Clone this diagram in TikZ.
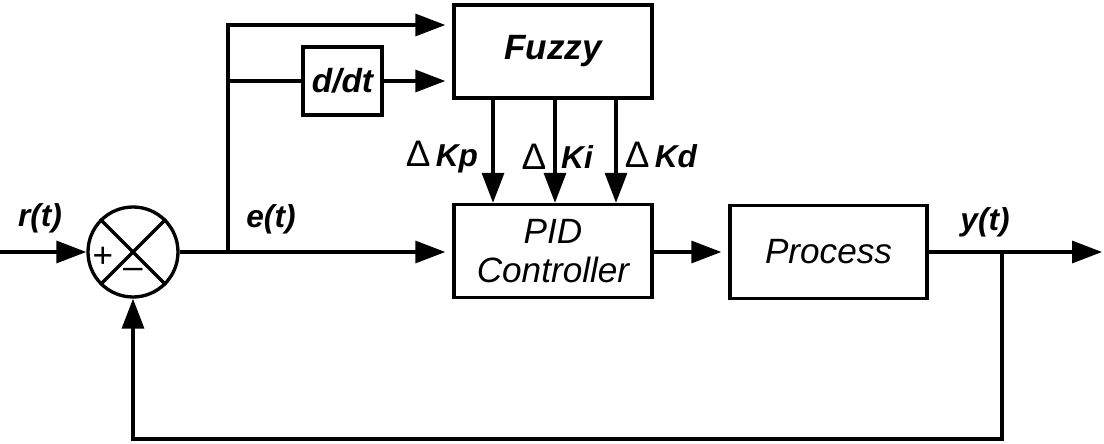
\documentclass[tikz,border=0pt]{standalone}
\usepackage{fontspec}
\setmainfont{Liberation Sans}
\usetikzlibrary{arrows.meta,positioning,calc}
\newcommand{\dlt}{{\mdseries\upshape\fontsize{21}{22}\selectfont Δ}}
\tikzset{
  wire/.style={line width=1.9pt},
  arr/.style={wire, -{Triangle[length=0.6cm,width=0.44cm]}},
  blk/.style={draw, wire, minimum width=3.96cm, minimum height=1.86cm, align=center,
    font=\fontsize{20}{22}\selectfont\itshape},
  sig/.style={font=\fontsize{18}{20}\selectfont\bfseries\itshape},
}

\begin{document}
\begin{tikzpicture}
    \useasboundingbox (0,0) rectangle (22.08,8.86);
    % Blocks
    \node[draw, wire, circle, minimum size=1.8cm, inner sep=0pt] (sum) at (2.66,3.82) {};
    \draw[wire] (sum.45) -- (sum.225);
    \draw[wire] (sum.135) -- (sum.315);
    \node[font=\fontsize{20}{22}\selectfont] (plus) at (2.06,3.72) {+};
    \node[font=\fontsize{20}{22}\selectfont] (minus) at (2.66,3.40) {--};
    \node[blk, font=\fontsize{20}{22}\selectfont\bfseries\itshape] (fuzzy) at (11.06,7.83) {Fuzzy};
    \node[blk, minimum width=1.58cm, minimum height=1.36cm, font=\fontsize{19}{22}\selectfont\bfseries\itshape] (ddt) at (6.85,7.24) {d/dt};
    \node[blk] (pid) at (11.06,3.84) {PID\\Controller};
    \node[blk, minimum width=3.94cm] (process) at (16.57,3.82) {Process};
    \coordinate (in) at (0,3.82);
    \coordinate (split) at (4.56,3.82);
    \coordinate (ybr) at (20.04,3.82);
    \coordinate (out) at (22.04,3.82);
    \coordinate (fb) at (20.04,0.08);
    % Forward path
    \draw[arr] (in) -- (sum.west);
    \draw[wire] (sum.east) -- (split);
    \draw[arr, shorten >=4pt] (split) -- (split -| pid.west);
    \draw[arr, shorten >=4pt] (split) |- ([yshift=0.53cm]fuzzy.west);
    \draw[wire] (split |- ddt.west) -- (ddt.west);
    \draw[arr, shorten >=4pt] (ddt.east) -- (ddt.east -| fuzzy.west);
    \foreach \dx in {-1.2,0.04,1.26}
      \draw[arr] ([xshift=\dx cm]fuzzy.south) -- ([xshift=\dx cm]pid.north);
    \draw[arr, shorten >=4pt] (pid.east |- split) -- (process.west);
    \draw[wire] (process.east) -- (ybr);
    \draw[arr] (ybr) -- (out);
    % Feedback
    \draw[arr] (ybr) -- (fb) -| (sum.south);
    % Labels
    \node[sig] (rt) at (0.8,4.5) {r(t)};
    \node[sig] (et) at (5.42,4.48) {e(t)};
    \node[sig] (yt) at (19.7,4.42) {y(t)};
    \node[sig] (kp) at (8.84,5.72) {\dlt\,Kp};
    \node[sig] (dki) at (10.68,5.72) {\dlt};
    \node[sig] (ki) at (11.54,5.72) {Ki};
    \node[sig] (kd) at (13.22,5.76) {\dlt\,Kd};
\end{tikzpicture}
\end{document}
